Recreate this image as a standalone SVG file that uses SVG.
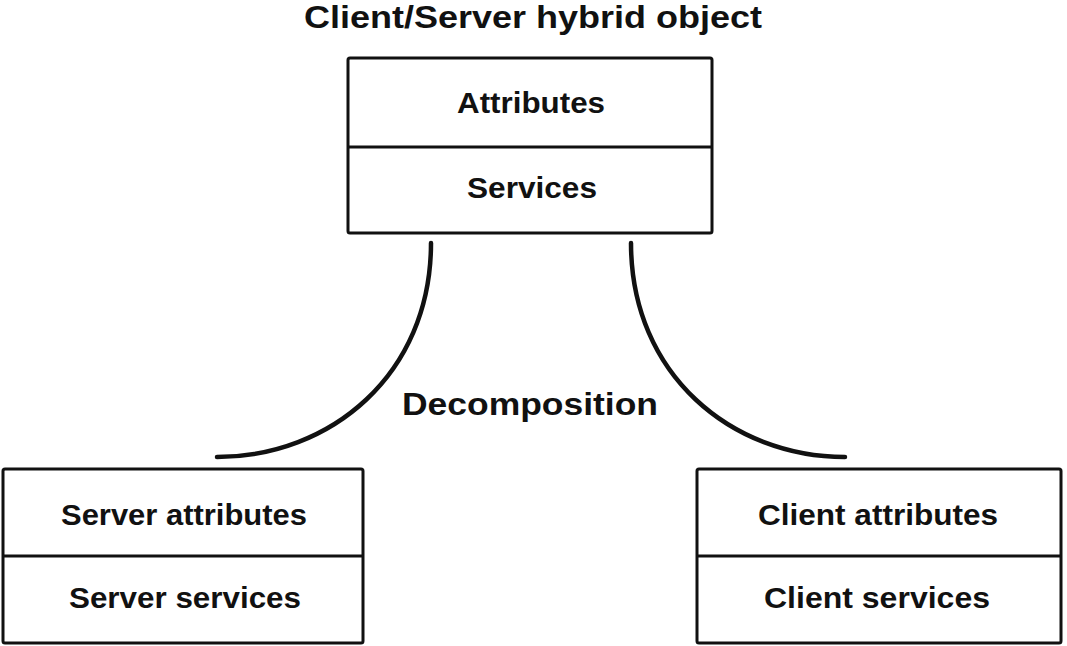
<svg xmlns="http://www.w3.org/2000/svg" width="1067" height="646" viewBox="0 0 1067 646">
<style>
.box{fill:#fff;stroke:#111;stroke-width:3}
.div{stroke:#111;stroke-width:3}
.t{font-family:"Liberation Sans",Arial,sans-serif;font-weight:bold;fill:#111;text-anchor:middle;font-size:29px}
.big{font-size:31px}
.conn{fill:none;stroke:#111;stroke-width:4.5;stroke-linecap:round}
</style>
<rect width="1067" height="646" fill="#fff"/>
<text class="t big" x="533" y="28" textLength="458" lengthAdjust="spacingAndGlyphs">Client/Server hybrid object</text>
<g id="hybrid">
<rect class="box" x="348" y="58" width="364" height="175" rx="2"/>
<line class="div" x1="348" y1="147" x2="712" y2="147"/>
<text class="t" x="531" y="113" textLength="148" lengthAdjust="spacingAndGlyphs">Attributes</text>
<text class="t" x="532" y="198" textLength="130" lengthAdjust="spacingAndGlyphs">Services</text>
</g>
<g id="server">
<rect class="box" x="3" y="469" width="360" height="174" rx="2"/>
<line class="div" x1="3" y1="556" x2="363" y2="556"/>
<text class="t" x="184" y="525" textLength="246" lengthAdjust="spacingAndGlyphs">Server attributes</text>
<text class="t" x="185" y="608" textLength="232" lengthAdjust="spacingAndGlyphs">Server services</text>
</g>
<g id="client">
<rect class="box" x="697" y="469" width="364" height="174" rx="2"/>
<line class="div" x1="697" y1="556" x2="1061" y2="556"/>
<text class="t" x="878" y="525" textLength="240" lengthAdjust="spacingAndGlyphs">Client attributes</text>
<text class="t" x="877" y="608" textLength="226" lengthAdjust="spacingAndGlyphs">Client services</text>
</g>
<g id="connectors">
<path class="conn" d="M431,243 C431,375 330,457 217,457"/>
<path class="conn" d="M631,243 C631,375 732,457 845,457"/>
<text class="t big" x="530" y="415" textLength="256" lengthAdjust="spacingAndGlyphs">Decomposition</text>
</g>
</svg>
